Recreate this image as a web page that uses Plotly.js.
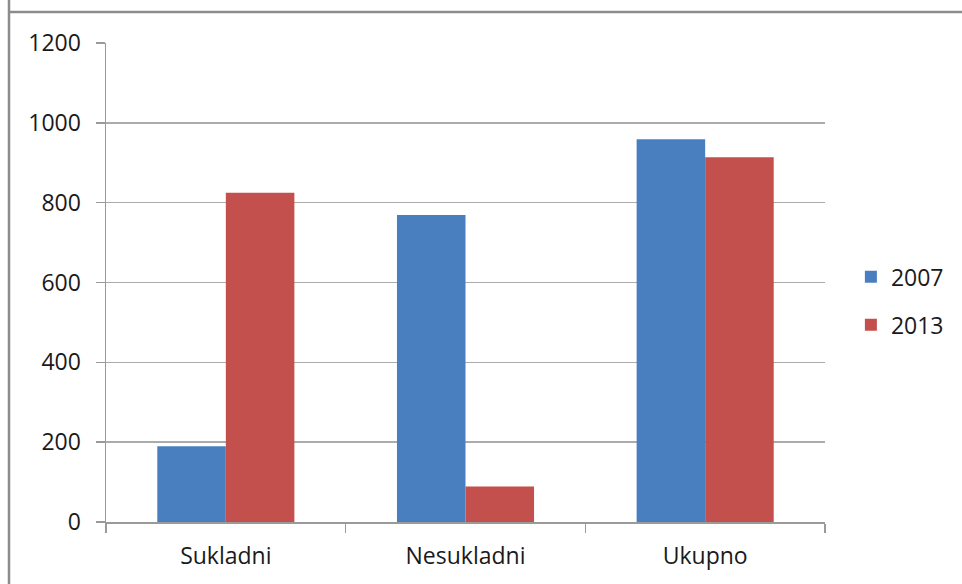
<!DOCTYPE html>
<html>
<head>
<meta charset="utf-8">
<script src="https://cdn.plot.ly/plotly-3.0.1.min.js"></script>
<style>html,body{margin:0;padding:0;background:#fff;}#chart{width:962px;height:584px;}</style>
</head>
<body>
<div id="chart"></div>
<script>
const categories = ["Sukladni", "Nesukladni", "Ukupno"];
const seriesNames = ["2007", "2013"];
const values2007 = [190, 769, 959];
const values2013 = [825, 89, 914];
const yTicks = [0, 200, 400, 600, 800, 1000, 1200];

const FONT = "Open Sans, Liberation Sans, sans-serif";
const TXT = "#1a1a1a";
const traces = [
  {type: "bar", name: seriesNames[0], x: categories, y: values2007, legendgroup: "a",
   marker: {color: "#4a7fbf"}},
  {type: "bar", name: seriesNames[1], x: categories, y: values2013, legendgroup: "b",
   marker: {color: "#c4504d"}}
];
const W = 962, H = 584, L = 106, R = 137, T = 43, B = 62;
const pw = W - L - R, ph = H - T - B;
const layout = {
  width: W, height: H,
  margin: {l: L, r: R, t: T, b: B, pad: 0},
  paper_bgcolor: "#ffffff", plot_bgcolor: "#ffffff",
  font: {family: FONT, size: 23, color: TXT},
  barmode: "group", bargap: 0.428, bargroupgap: 0,
  showlegend: true,
  legend: {x: 1.036, xanchor: "left", y: 0.4616, yanchor: "middle",
           traceorder: "grouped", tracegroupgap: 15,
           font: {family: FONT, size: 23, color: TXT}, bgcolor: "rgba(0,0,0,0)"},
  xaxis: {type: "category", tickson: "boundaries", ticks: "outside", ticklen: 9,
          tickcolor: "#9a9a9a", tickwidth: 1.5, showline: true, linecolor: "#9a9a9a", linewidth: 1.5,
          showgrid: false, ticklabelstandoff: 13, tickfont: {family: FONT, size: 23, color: TXT}},
  yaxis: {range: [0, 1200], tickvals: yTicks, ticks: "outside", ticklen: 9,
          tickcolor: "#9a9a9a", tickwidth: 1.5, showline: true, linecolor: "#9a9a9a", linewidth: 1.5,
          showgrid: true, gridcolor: "#ababab", gridwidth: 1.5, zeroline: false,
          ticklabelstandoff: 10, tickfont: {family: FONT, size: 23, color: TXT}},
  shapes: [
    {type: "line", xref: "paper", yref: "paper",
     x0: (9 - L) / pw, x1: (9 - L) / pw, y0: (H - T - 12) / ph + 0.003, y1: -B / ph - 0.01,
     line: {color: "#8c8c8c", width: 2.5}},
    {type: "line", xref: "paper", yref: "paper",
     x0: (9 - L) / pw, x1: (W + 5 - L) / pw, y0: (H - B - 12) / ph, y1: (H - B - 12) / ph,
     line: {color: "#8c8c8c", width: 2.5}}
  ]
};
Plotly.newPlot("chart", traces, layout, {displayModeBar: false, staticPlot: true});
</script>
</body>
</html>
